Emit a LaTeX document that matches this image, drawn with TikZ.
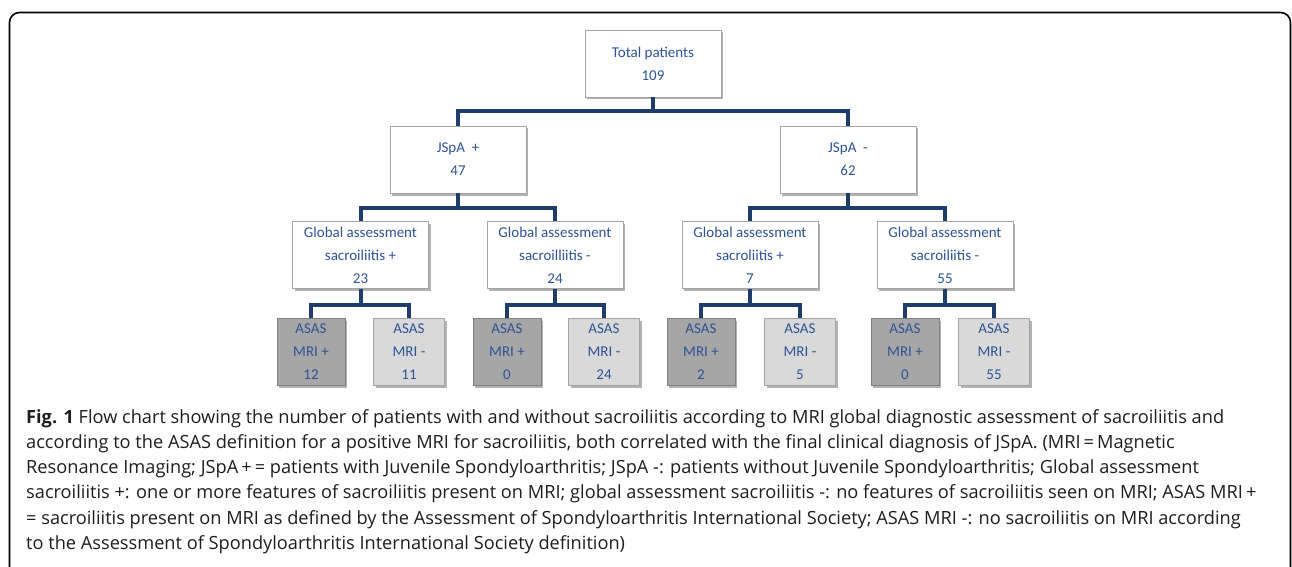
\documentclass[tikz,border=0pt]{standalone}
\usepackage{fontspec}
\setmainfont{Open Sans}
\newfontfamily\boxfont{Carlito}
\usetikzlibrary{shadows}

\definecolor{linkblue}{RGB}{31,61,107}
\definecolor{textblue}{RGB}{46,84,150}
\definecolor{boxline}{RGB}{165,165,165}
\definecolor{mripos}{RGB}{166,166,166}
\definecolor{mrineg}{RGB}{217,217,217}
\definecolor{captext}{RGB}{30,30,30}

\tikzset{
  box/.style={draw=boxline, fill=white, text=textblue, align=center, inner sep=0pt,
    font=\boxfont\fontsize{15}{23}\selectfont,
    drop shadow={shadow xshift=2pt, shadow yshift=-2.5pt, opacity=0.3, fill=black}},
  bigbox/.style={box, minimum width=136pt, minimum height=67pt},
  gabox/.style={box, minimum width=136pt, minimum height=67pt},
  posbox/.style={box, fill=mripos, draw=black!50, minimum width=68pt, minimum height=67pt},
  negbox/.style={box, fill=mrineg, minimum width=71pt, minimum height=67pt},
  link/.style={draw=linkblue, line width=4pt},
  capline/.style={anchor=base west, inner sep=0pt, text=captext, font=\fontsize{18.2}{25}\selectfont}
}

\begin{document}
\begin{tikzpicture}[x=1pt, y=-1pt]
  \useasboundingbox (0,0) rectangle (1292,567);

  % Frame
  \draw[line width=1.6pt, rounded corners=10pt] (9.5,568) -- (9.5,12.5) -- (1290.5,12.5) -- (1290.5,568);

  % Tree nodes
  \node[bigbox] (total) at (653,63.5) {Total patients\\109};
  \node[bigbox] (jpos) at (458,159.5) {JSpA~ +\\47};
  \node[bigbox] (jneg) at (848,159.5) {JSpA~ -\\62};

  \node[gabox] (ga1) at (360.5,255) {Global assessment\\sacroiliitis +\\23};
  \node[gabox] (ga2) at (555,255) {Global assessment\\sacroilliitis -\\24};
  \node[gabox] (ga3) at (750,255) {Global assessment\\sacroliitis +\\7};
  \node[gabox] (ga4) at (945,255) {Global assessment\\sacroiliitis -\\55};

  \node[posbox] (a1) at (311,351.5) {ASAS\\MRI +\\12};
  \node[negbox] (a2) at (409,351.5) {ASAS\\MRI -\\11};
  \node[posbox] (a3) at (507,351.5) {ASAS\\MRI +\\0};
  \node[negbox] (a4) at (604,351.5) {ASAS\\MRI -\\24};
  \node[posbox] (a5) at (701,351.5) {ASAS\\MRI +\\2};
  \node[negbox] (a6) at (800,351.5) {ASAS\\MRI -\\5};
  \node[posbox] (a7) at (905,351.5) {ASAS\\MRI +\\0};
  \node[negbox] (a8) at (994,351.5) {ASAS\\MRI -\\55};

  % Bus points
  \coordinate (b0) at (653,111);
  \coordinate (b1) at (458,208);
  \coordinate (b2) at (848,208);
  \coordinate (c1) at (360.5,305);
  \coordinate (c2) at (555,305);
  \coordinate (c3) at (750,305);
  \coordinate (c4) at (945,305);

  % Connectors
  \draw[link] (total.south) -- (b0) -| (jpos.north);
  \draw[link] (b0) -| (jneg.north);
  \draw[link] (jpos.south) -- (b1) -| (ga1.north);
  \draw[link] (b1) -| (ga2.north);
  \draw[link] (jneg.south) -- (b2) -| (ga3.north);
  \draw[link] (b2) -| (ga4.north);
  \draw[link] (ga1.south) -- (c1) -| (a1.north);
  \draw[link] (c1) -| (a2.north);
  \draw[link] (ga2.south) -- (c2) -| (a3.north);
  \draw[link] (c2) -| (a4.north);
  \draw[link] (ga3.south) -- (c3) -| (a5.north);
  \draw[link] (c3) -| (a6.north);
  \draw[link] (ga4.south) -- (c4) -| (a7.north);
  \draw[link] (c4) -| (a8.north);

  % Caption
  \foreach \txt [count=\i] in {
    {\textbf{Fig. 1} Flow chart showing the number of patients with and without sacroiliitis according to MRI global diagnostic assessment of sacroiliitis and},
    {according to the ASAS definition for a positive MRI for sacroiliitis, both correlated with the final clinical diagnosis of JSpA. (MRI\,=\,Magnetic},
    {Resonance Imaging; JSpA\,+\,= patients with Juvenile Spondyloarthritis; JSpA -: patients without Juvenile Spondyloarthritis; Global assessment},
    {sacroiliitis +: one or more features of sacroiliitis present on MRI; global assessment sacroiliitis -: no features of sacroiliitis seen on MRI; ASAS MRI\,+},
    {= sacroiliitis present on MRI as defined by the Assessment of Spondyloarthritis International Society; ASAS MRI -: no sacroiliitis on MRI according},
    {to the Assessment of Spondyloarthritis International Society definition)}} {
    \node[capline] (cap\i) at (26,{397.7+25.3*\i}) {\txt};
  }
\end{tikzpicture}
\end{document}
